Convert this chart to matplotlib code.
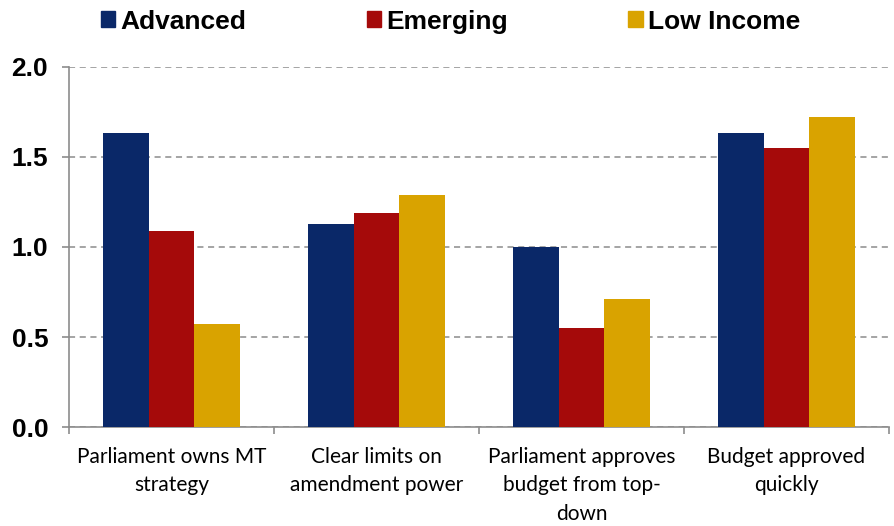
import matplotlib
matplotlib.use("Agg")
import matplotlib.pyplot as plt
import numpy as np
from matplotlib.patches import Patch

# Data
categories = ["Parliament owns MT\nstrategy",
              "Clear limits on\namendment power",
              "Parliament approves\nbudget from top-\ndown",
              "Budget approved\nquickly"]
series_names = ["Advanced", "Emerging", "Low Income"]
advanced = [1.63, 1.13, 1.00, 1.63]
emerging = [1.09, 1.19, 0.55, 1.55]
low_income = [0.57, 1.29, 0.71, 1.72]
colors = ["#0A2868", "#A50A0A", "#D9A300"]

fig = plt.figure(figsize=(8.94, 5.26), dpi=100)
ax = fig.add_axes([0.0772, 0.188, 0.917, 0.685])

x = np.arange(len(categories))
width = 0.222
for i, (vals, name) in enumerate(zip([advanced, emerging, low_income], series_names)):
    ax.bar(x + (i - 1) * width, vals, width, color=colors[i], label=name, zorder=3)

ax.set_xlim(-0.5, len(categories) - 0.5)
ax.set_ylim(0, 2.0)
ax.set_yticks([0, 0.5, 1.0, 1.5, 2.0])
ax.set_yticklabels([f"{v:.1f}" for v in [0, 0.5, 1.0, 1.5, 2.0]],
                   fontsize=19, fontweight="bold", family="Liberation Sans")
ax.yaxis.grid(True, linestyle=(0, (4, 3)), color="#8c8c8c", linewidth=1.1, zorder=0)

# category boundaries as minor ticks, labels at centers
ax.set_xticks(x)
ax.set_xticklabels(categories, fontsize=15, family="Lato", linespacing=1.55)
ax.tick_params(axis="x", which="major", length=0, pad=14)
ax.set_xticks(np.arange(-0.5, len(categories) + 0.5, 1), minor=True)
ax.tick_params(axis="x", which="minor", length=5, color="#8c8c8c", width=1.2)
ax.tick_params(axis="y", length=5, color="#8c8c8c", width=1.2, pad=10)

for side in ["top", "right"]:
    ax.spines[side].set_visible(False)
for side in ["left", "bottom"]:
    ax.spines[side].set_color("#8c8c8c")
    ax.spines[side].set_linewidth(1.2)

handles = [Patch(color=c) for c in colors]
fig.legend(handles, series_names, loc="center left", bbox_to_anchor=(0.098, 0.959),
           ncol=3, frameon=False, handlelength=0.55, handleheight=0.55,
           handletextpad=0.2, columnspacing=4.55, borderpad=0,
           prop={"family": "Liberation Sans", "weight": "bold", "size": 19})

fig.savefig("out.png", dpi=100)
